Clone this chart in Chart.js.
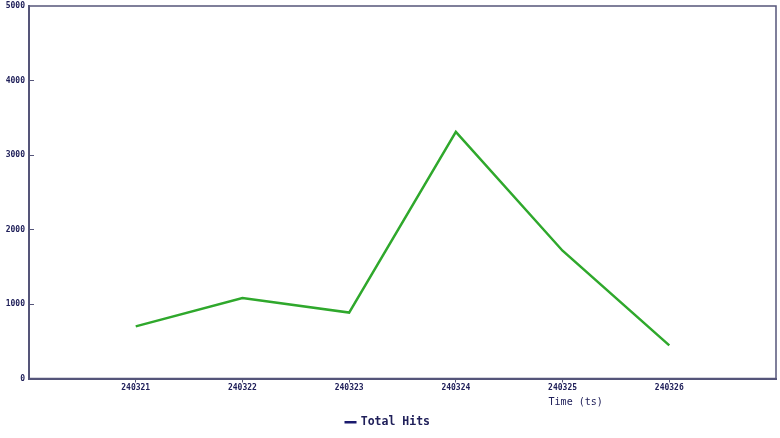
<!DOCTYPE html>
<html>
<head>
<meta charset="utf-8">
<script src="https://cdn.jsdelivr.net/npm/chart.js@4/dist/chart.umd.min.js"></script>
<style>
  html, body { margin: 0; padding: 0; background: #fff; }
  #wrap { width: 780px; height: 438px; }
</style>
</head>
<body>
<div id="wrap"><canvas id="grafico"></canvas></div>
<script>
// datos
const dias = ["240321", "240322", "240323", "240324", "240325", "240326"];
const hits = [700, 1080, 885, 3310, 1715, 445];
const yTicks = [0, 1000, 2000, 3000, 4000, 5000];

const colorTexto = "#20205a";
const colorEje = "#55557a";
const fuente = "'DejaVu Sans Mono', 'Liberation Mono', monospace";

// marco superior / derecho y título del eje x
const marco = {
    id: "marco",
    beforeDatasetsDraw(chart) {
        const { ctx, chartArea: a } = chart;
        ctx.save();
        ctx.strokeStyle = colorEje;
        ctx.lineWidth = 1.5;
        ctx.strokeRect(a.left, a.top, a.right - a.left, a.bottom - a.top);
        ctx.restore();
    },
    afterDraw(chart) {
        const { ctx } = chart;
        const xs = chart.scales.x;
        ctx.save();
        ctx.fillStyle = colorTexto;
        ctx.font = "10px " + fuente;
        ctx.textBaseline = "middle";
        ctx.fillText("Time (ts)", xs.getPixelForValue(240325) - 14, xs.bottom - 6);
        ctx.restore();
    }
};

const ctx = document.getElementById("grafico").getContext("2d");
new Chart(ctx, {
    type: "line",
    data: {
        datasets: [{
            label: "Total Hits",
            data: dias.map((d, i) => ({ x: Number(d), y: hits[i] })),
            borderColor: "#2fa82c",
            borderWidth: 2.5,
            pointRadius: 0,
            tension: 0,
            fill: false
        }]
    },
    options: {
        responsive: true,
        maintainAspectRatio: false,
        animation: false,
        layout: { padding: { top: 6, right: 4, left: 0, bottom: 0 } },
        scales: {
            x: {
                type: "linear",
                min: 240320,
                max: 240327,
                afterFit: (s) => { s.height = 30; },
                border: { color: colorEje, width: 2 },
                grid: {
                    display: true,
                    drawOnChartArea: false,
                    tickLength: 4,
                    color: (c) => (c.tick && dias.includes(String(c.tick.value))) ? colorEje : "rgba(0,0,0,0)"
                },
                ticks: {
                    stepSize: 1,
                    autoSkip: false,
                    maxRotation: 0,
                    padding: 1,
                    color: colorTexto,
                    font: { family: fuente, size: 8, weight: "bold" },
                    callback: (v) => dias.includes(String(v)) ? String(v) : ""
                }
            },
            y: {
                min: 0,
                max: 5000,
                afterFit: (s) => { s.width = 29; s.paddingTop = 0; s.paddingBottom = 0; },
                afterBuildTicks: (s) => { s.ticks = yTicks.map(v => ({ value: v })); },
                border: { color: colorEje, width: 2 },
                grid: {
                    display: true,
                    drawOnChartArea: false,
                    tickLength: -5,
                    color: (c) => (c.tick && c.tick.value > 0 && c.tick.value < 5000) ? colorEje : "rgba(0,0,0,0)"
                },
                ticks: {
                    padding: 9,
                    color: colorTexto,
                    font: { family: fuente, size: 8, weight: "bold" },
                    callback: (v) => String(v)
                }
            }
        },
        plugins: {
            tooltip: { enabled: false },
            legend: {
                display: true,
                position: "bottom",
                labels: {
                    color: colorTexto,
                    font: { family: fuente, size: 11.5, weight: "bold" },
                    usePointStyle: true,
                    boxWidth: 9,
                    boxHeight: 8.5,
                    padding: 8,
                    generateLabels: (chart) => chart.data.datasets.map((ds, i) => ({
                        text: ds.label,
                        fillStyle: "#1a1a6e",
                        strokeStyle: "#1a1a6e",
                        lineWidth: 2.5,
                        pointStyle: "line",
                        datasetIndex: i,
                        fontColor: colorTexto
                    }))
                }
            }
        }
    },
    plugins: [marco]
});
</script>
</body>
</html>
